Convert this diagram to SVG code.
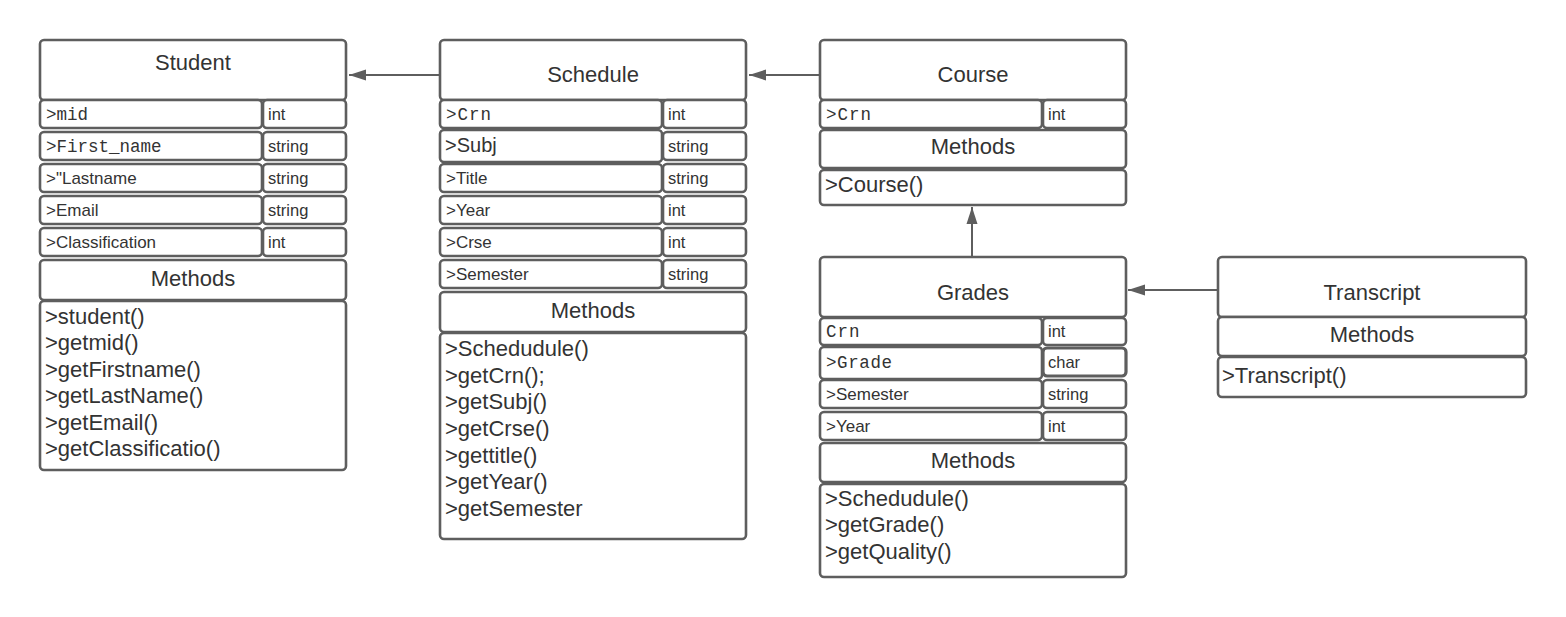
<svg xmlns="http://www.w3.org/2000/svg" width="1566" height="617" viewBox="0 0 1566 617">
<style>
.box{fill:#fff;stroke:#5e5e5e;stroke-width:2.6}
.title{font-family:"Liberation Sans",Arial,sans-serif;font-size:22px;fill:#333;text-anchor:middle}
.mono{font-family:"Liberation Mono","DejaVu Sans Mono",monospace;font-size:17.5px;fill:#333}
.attr{font-family:"Liberation Sans",Arial,sans-serif;font-size:17px;fill:#333}
.type{font-family:"Liberation Sans",Arial,sans-serif;font-size:16.5px;fill:#333}
.meth{font-family:"Liberation Sans",Arial,sans-serif;font-size:22px;fill:#333}
.conn{stroke:#5e5e5e;stroke-width:2;fill:none;marker-end:url(#arr)}
</style>
<defs>
<marker id="arr" markerUnits="userSpaceOnUse" markerWidth="17" markerHeight="12" refX="17" refY="6" orient="auto">
<path d="M0,0.5 L17,6 L0,11.5 z" fill="#5e5e5e"/>
</marker>
</defs>
<rect width="1566" height="617" fill="#fff"/>

<g id="connectors">
<line class="conn" x1="440" y1="75" x2="349" y2="75"/>
<line class="conn" x1="820" y1="75" x2="749" y2="75"/>
<line class="conn" x1="972" y1="256" x2="972" y2="207"/>
<line class="conn" x1="1218" y1="290" x2="1128" y2="290"/>
</g>

<g id="student">
<rect class="box" x="40" y="40" width="306" height="60" rx="4"/>
<text class="title" x="193" y="70">Student</text>
<rect class="box" x="40" y="100" width="222" height="28" rx="4"/>
<rect class="box" x="263" y="100" width="83" height="28" rx="4"/>
<text class="mono" x="46" y="120">&gt;mid</text><text class="type" x="268" y="120">int</text>
<rect class="box" x="40" y="132" width="222" height="28" rx="4"/>
<rect class="box" x="263" y="132" width="83" height="28" rx="4"/>
<text class="mono" x="46" y="152">&gt;First_name</text><text class="type" x="268" y="152">string</text>
<rect class="box" x="40" y="164" width="222" height="28" rx="4"/>
<rect class="box" x="263" y="164" width="83" height="28" rx="4"/>
<text class="attr" x="46" y="184">&gt;"Lastname</text><text class="type" x="268" y="184">string</text>
<rect class="box" x="40" y="196" width="222" height="28" rx="4"/>
<rect class="box" x="263" y="196" width="83" height="28" rx="4"/>
<text class="attr" x="46" y="216">&gt;Email</text><text class="type" x="268" y="216">string</text>
<rect class="box" x="40" y="228" width="222" height="28" rx="4"/>
<rect class="box" x="263" y="228" width="83" height="28" rx="4"/>
<text class="attr" x="46" y="248">&gt;Classification</text><text class="type" x="268" y="248">int</text>
<rect class="box" x="40" y="260" width="306" height="40" rx="4"/>
<text class="title" x="193" y="286">Methods</text>
<rect class="box" x="40" y="301" width="306" height="169" rx="4"/>
<text class="meth" x="45" y="324">&gt;student()</text>
<text class="meth" x="45" y="350">&gt;getmid()</text>
<text class="meth" x="45" y="377">&gt;getFirstname()</text>
<text class="meth" x="45" y="403">&gt;getLastName()</text>
<text class="meth" x="45" y="430">&gt;getEmail()</text>
<text class="meth" x="45" y="456">&gt;getClassificatio()</text>
</g>

<g id="schedule">
<rect class="box" x="440" y="40" width="306" height="60" rx="4"/>
<text class="title" x="593" y="82">Schedule</text>
<rect class="box" x="440" y="100" width="222" height="28" rx="4"/>
<rect class="box" x="663" y="100" width="83" height="28" rx="4"/>
<text class="mono" x="446" y="120" letter-spacing="1">&gt;Crn</text><text class="type" x="668" y="120">int</text>
<rect class="box" x="440" y="130" width="222" height="32" rx="4"/>
<rect class="box" x="663" y="132" width="83" height="28" rx="4"/>
<text class="attr" x="445" y="152" style="font-size:20px">&gt;Subj</text><text class="type" x="668" y="152">string</text>
<rect class="box" x="440" y="164" width="222" height="28" rx="4"/>
<rect class="box" x="663" y="164" width="83" height="28" rx="4"/>
<text class="attr" x="446" y="184">&gt;Title</text><text class="type" x="668" y="184">string</text>
<rect class="box" x="440" y="196" width="222" height="28" rx="4"/>
<rect class="box" x="663" y="196" width="83" height="28" rx="4"/>
<text class="attr" x="446" y="216">&gt;Year</text><text class="type" x="668" y="216">int</text>
<rect class="box" x="440" y="228" width="222" height="28" rx="4"/>
<rect class="box" x="663" y="228" width="83" height="28" rx="4"/>
<text class="attr" x="446" y="248">&gt;Crse</text><text class="type" x="668" y="248">int</text>
<rect class="box" x="440" y="260" width="222" height="28" rx="4"/>
<rect class="box" x="663" y="260" width="83" height="28" rx="4"/>
<text class="attr" x="446" y="280">&gt;Semester</text><text class="type" x="668" y="280">string</text>
<rect class="box" x="440" y="292" width="306" height="40" rx="4"/>
<text class="title" x="593" y="318">Methods</text>
<rect class="box" x="440" y="333" width="306" height="206" rx="4"/>
<text class="meth" x="445" y="356">&gt;Schedudule()</text>
<text class="meth" x="445" y="383">&gt;getCrn();</text>
<text class="meth" x="445" y="409">&gt;getSubj()</text>
<text class="meth" x="445" y="436">&gt;getCrse()</text>
<text class="meth" x="445" y="463">&gt;gettitle()</text>
<text class="meth" x="445" y="489">&gt;getYear()</text>
<text class="meth" x="445" y="516">&gt;getSemester</text>
</g>

<g id="course">
<rect class="box" x="820" y="40" width="306" height="60" rx="4"/>
<text class="title" x="973" y="82">Course</text>
<rect class="box" x="820" y="100" width="222" height="28" rx="4"/>
<rect class="box" x="1043" y="100" width="83" height="28" rx="4"/>
<text class="mono" x="826" y="120" letter-spacing="1">&gt;Crn</text><text class="type" x="1048" y="120">int</text>
<rect class="box" x="820" y="130" width="306" height="38" rx="4"/>
<text class="title" x="973" y="154">Methods</text>
<rect class="box" x="820" y="170" width="306" height="35" rx="4"/>
<text class="meth" x="825" y="192">&gt;Course()</text>
</g>

<g id="grades">
<rect class="box" x="820" y="257" width="306" height="60" rx="4"/>
<text class="title" x="973" y="300">Grades</text>
<rect class="box" x="820" y="318" width="222" height="27" rx="4"/>
<rect class="box" x="1043" y="318" width="83" height="27" rx="4"/>
<text class="mono" x="826" y="337" letter-spacing="1">Crn</text><text class="type" x="1048" y="337">int</text>
<rect class="box" x="820" y="347" width="222" height="32" rx="4"/>
<rect class="box" x="1043" y="348" width="83" height="28" rx="4" style="stroke-width:3.2"/>
<text class="mono" x="826" y="368" letter-spacing="0.6">&gt;Grade</text><text class="type" x="1048" y="368">char</text>
<rect class="box" x="820" y="380" width="222" height="28" rx="4"/>
<rect class="box" x="1043" y="380" width="83" height="28" rx="4"/>
<text class="attr" x="826" y="400">&gt;Semester</text><text class="type" x="1048" y="400">string</text>
<rect class="box" x="820" y="412" width="222" height="28" rx="4"/>
<rect class="box" x="1043" y="412" width="83" height="28" rx="4"/>
<text class="attr" x="826" y="432">&gt;Year</text><text class="type" x="1048" y="432">int</text>
<rect class="box" x="820" y="443" width="306" height="39" rx="4"/>
<text class="title" x="973" y="468">Methods</text>
<rect class="box" x="820" y="484" width="306" height="93" rx="4"/>
<text class="meth" x="825" y="506">&gt;Schedudule()</text>
<text class="meth" x="825" y="532">&gt;getGrade()</text>
<text class="meth" x="825" y="559">&gt;getQuality()</text>
</g>

<g id="transcript">
<rect class="box" x="1218" y="257" width="308" height="60" rx="4"/>
<text class="title" x="1372" y="300">Transcript</text>
<rect class="box" x="1218" y="317" width="308" height="39" rx="4"/>
<text class="title" x="1372" y="342">Methods</text>
<rect class="box" x="1218" y="357" width="308" height="40" rx="4"/>
<text class="meth" x="1222" y="383">&gt;Transcript()</text>
</g>
</svg>
